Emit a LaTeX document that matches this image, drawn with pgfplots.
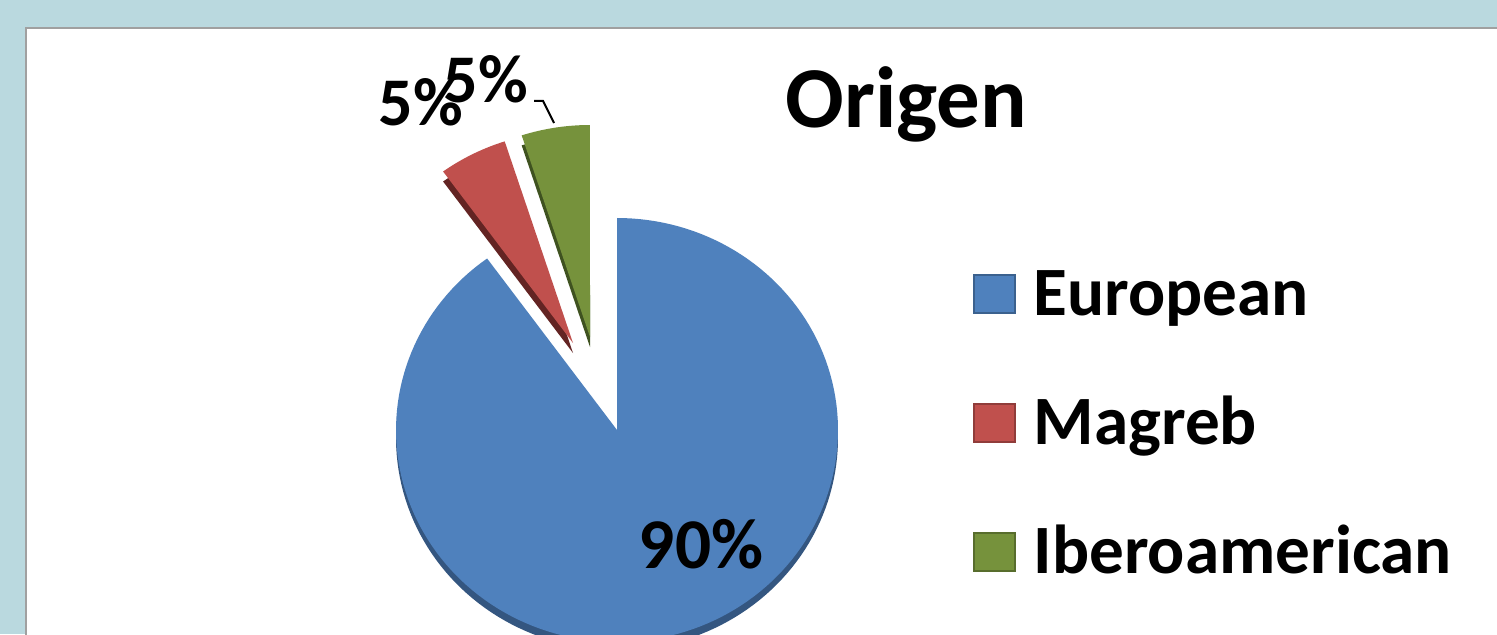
\documentclass[border=0pt]{standalone}
\usepackage{pgfplots}
\pgfplotsset{compat=1.18}
\usepackage{pgfplotstable}
\usepackage{fontspec}
\setmainfont{Carlito}
\definecolor{bg}{RGB}{186,217,223}
\definecolor{panelborder}{RGB}{160,160,160}
\definecolor{eur}{RGB}{79,129,189}
\definecolor{eurdark}{RGB}{52,86,128}
\definecolor{mag}{RGB}{192,80,77}
\definecolor{magdark}{RGB}{99,36,35}
\definecolor{ibe}{RGB}{118,146,60}
\definecolor{ibedark}{RGB}{63,82,32}

\pgfplotstableread{
label value
European 90
Magreb 5
Iberoamerican 5
}\piedata

% #1 start angle, #2 end angle, #3 dx, #4 dy, #5 number of arc steps, #6 plot options
\newcommand\pieslice[6]{%
  \pgfmathsetmacro\st{(#2-#1)/#5}%
  \pgfmathsetmacro\lo{#1-\st}%
  \pgfmathsetmacro\hi{#2+\st}%
  \pgfmathsetmacro\lc{#1-\st/2}%
  \pgfmathsetmacro\hc{#2+\st/2}%
  \pgfmathtruncatemacro\ns{#5+3}%
  \edef\tmp{\noexpand\addplot[#6, domain=\lo:\hi, samples=\ns]
    ({617+#3+((x<\lc||x>\hc)?0:1)*221*sin(min(max(x,#1),#2))},
     {204+#4+((x<\lc||x>\hc)?0:1)*212*cos(min(max(x,#1),#2))});}%
  \tmp
}

\begin{document}
\begin{tikzpicture}
\useasboundingbox (0,0) rectangle (149.7mm,63.4mm);
\clip (0,0) rectangle (149.7mm,63.4mm);
\fill[bg] (0,0) rectangle (149.7mm,63.4mm);
\filldraw[fill=white, draw=panelborder, line width=0.2mm] (2.6mm,-2mm) rectangle (152mm,60.6mm);

\pgfplotstablegetelem{0}{value}\of\piedata \let\vA\pgfplotsretval
\pgfplotstablegetelem{1}{value}\of\piedata \let\vB\pgfplotsretval
\pgfplotstablegetelem{2}{value}\of\piedata \let\vC\pgfplotsretval
\pgfmathsetmacro\tot{\vA+\vB+\vC}
\pgfmathsetmacro\sA{0}
\pgfmathsetmacro\eA{\vA/\tot*360}
\pgfmathsetmacro\sB{\eA}
\pgfmathsetmacro\eB{\eA+\vB/\tot*360}
\pgfmathsetmacro\sC{\eB}
\pgfmathsetmacro\eC{\eB+\vC/\tot*360}

\begin{axis}[
  at={(0,0)}, anchor=south west,
  width=149.7mm, height=63.4mm, scale only axis,
  xmin=0, xmax=1497, ymin=0, ymax=634,
  hide axis, clip=true,
  legend style={at={(axis cs:972,362)}, anchor=north west, draw=none, fill=none,
    inner sep=0pt, row sep=8.6mm, column sep=1.8mm,
    font=\fontsize{19.7pt}{20pt}\selectfont\bfseries,
    nodes={inner sep=0pt, text height=4.3mm, text depth=0pt}},
  legend cell align=left,
  legend image code/.code={\filldraw[#1, draw=.!75!black, line width=0.2mm] (0mm,-1.9mm) rectangle (4.1mm,1.9mm);},
]
\pieslice{\sA}{\eA}{0}{-8}{160}{fill=eurdark, draw=none, forget plot}
\pieslice{\sA}{\eA}{0}{0}{160}{color=eur, fill=eur, draw=none}
\addlegendentry{European}
\pieslice{\sB}{\eB}{-44}{77}{20}{fill=magdark, draw=none, forget plot}
\pieslice{\sB}{\eB}{-44}{87}{20}{color=mag, fill=mag, draw=none}
\addlegendentry{Magreb}
\pieslice{\sC}{\eC}{-27}{83}{20}{fill=ibedark, draw=none, forget plot}
\pieslice{\sC}{\eC}{-27}{93}{20}{color=ibe, fill=ibe, draw=none}
\addlegendentry{Iberoamerican}

\node[font=\fontsize{20.3pt}{21pt}\selectfont\bfseries] at (axis cs:701,90) {90\%};
\node[font=\fontsize{19.4pt}{20pt}\selectfont\bfseries] at (axis cs:421,532) {5\%};
\node[font=\fontsize{19.4pt}{20pt}\selectfont\bfseries] at (axis cs:486,555) {5\%};
\draw[line width=0.2mm] (axis cs:534,533) -- (axis cs:543,533) -- (axis cs:554,511);
\node[font=\fontsize{24.7pt}{25pt}\selectfont\bfseries, anchor=base west, inner sep=0pt] at (axis cs:785,506) {Origen};
\end{axis}
\end{tikzpicture}
\end{document}
